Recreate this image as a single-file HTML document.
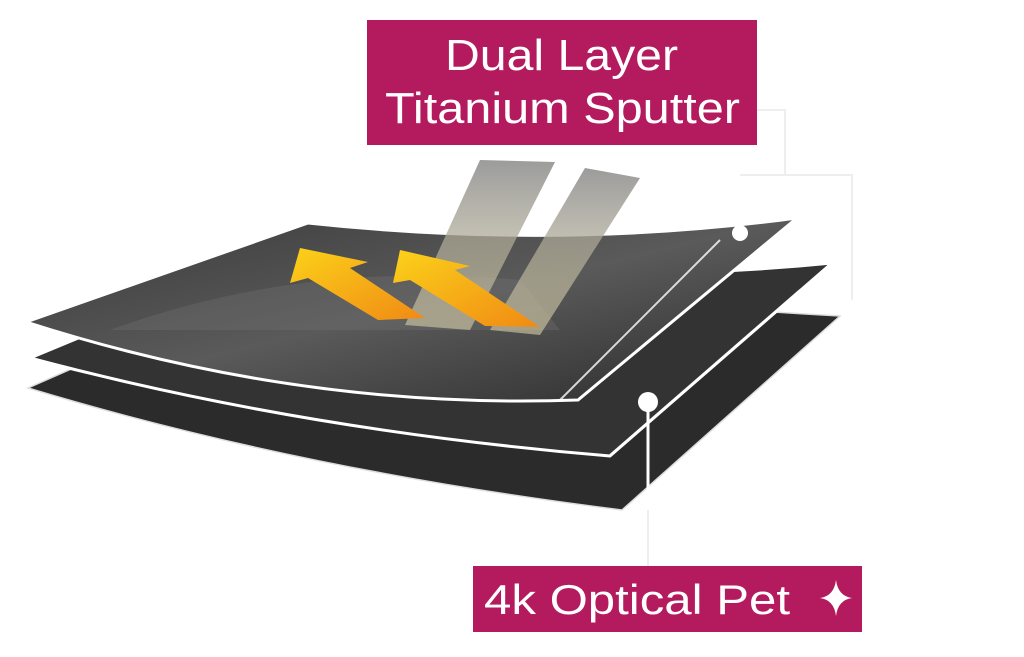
<!DOCTYPE html>
<html><head><meta charset="utf-8"><style>
html,body{margin:0;padding:0;background:#fff;width:1024px;height:657px;overflow:hidden}
svg{display:block}
</style></head><body>
<svg width="1024" height="657" viewBox="0 0 1024 657" xmlns="http://www.w3.org/2000/svg">
<defs>
<linearGradient id="g1" x1="0" y1="0" x2="1" y2="1">
<stop offset="0" stop-color="#3a3a3a"/><stop offset="0.5" stop-color="#5a5a5a"/><stop offset="1" stop-color="#2a2a2a"/>
</linearGradient>
<linearGradient id="ar" x1="0" y1="0" x2="1" y2="1">
<stop offset="0" stop-color="#fcd21a"/><stop offset="1" stop-color="#f08a14"/>
</linearGradient>
<linearGradient id="st" x1="0" y1="0" x2="0" y2="1">
<stop offset="0" stop-color="#8a8a8a"/><stop offset="1" stop-color="#d8cfa8" stop-opacity="0.7"/>
</linearGradient>
</defs>
<path d="M28,388 L300,268 Q560,300 840,316 L622,510 Q300,470 28,388 Z" fill="#2b2b2b" stroke="#ddd" stroke-width="1.5"/>
<path d="M30,358 L300,246 Q560,290 832,263 L610,456 Q300,430 30,358 Z" fill="#333" stroke="#fff" stroke-width="3"/>
<path d="M26,322 L308,223 Q560,250 797,218 L578,400 Q300,410 26,322 Z" fill="url(#g1)" stroke="#fff" stroke-width="3"/>
<path d="M110,330 Q300,260 520,280 L560,330 Q300,330 110,330 Z" fill="#777" opacity="0.3"/>
<path d="M480,160 L555,162 L470,330 L405,325 Z" fill="url(#st)" opacity="0.85"/>
<path d="M585,168 L640,178 L540,335 L490,330 Z" fill="url(#st)" opacity="0.85"/>
<path d="M300,248 L290,283 L308,278 L378,320 L425,318 L350,268 L368,262 Z" fill="url(#ar)"/>
<path d="M400,250 L393,283 L410,280 L485,326 L540,327 L455,270 L470,266 Z" fill="url(#ar)"/>
<path d="M560,400 L720,240" stroke="#fff" stroke-width="2" opacity="0.8"/>
<path d="M610,455 L800,290" stroke="#fff" stroke-width="2" opacity="0.7"/>
<circle cx="740" cy="233" r="8" fill="#fff"/>
<path d="M757,110 L785,110 L785,175 M740,175 L852,175 L852,300" stroke="#eee" stroke-width="2" fill="none"/>
<circle cx="648" cy="402" r="10" fill="#fff"/>
<line x1="648" y1="402" x2="648" y2="566" stroke="#fff" stroke-width="3"/>
<line x1="648" y1="510" x2="648" y2="566" stroke="#eee" stroke-width="2"/>
<rect x="367" y="20" width="390" height="125" fill="#b31b5e"/>
<text x="445" y="70" font-family="Liberation Sans, sans-serif" font-size="44" fill="#fff" textLength="233" lengthAdjust="spacingAndGlyphs">Dual Layer</text>
<text x="385" y="123" font-family="Liberation Sans, sans-serif" font-size="44" fill="#fff" textLength="355" lengthAdjust="spacingAndGlyphs">Titanium Sputter</text>
<rect x="473" y="566" width="389" height="66" fill="#b31b5e"/>
<text x="484" y="614" font-family="Liberation Sans, sans-serif" font-size="42" fill="#fff" textLength="306" lengthAdjust="spacingAndGlyphs">4k Optical Pet</text>
<path d="M836,580 Q838,596 852,598 Q838,600 836,616 Q834,600 820,598 Q834,596 836,580 Z" fill="#fff"/>
</svg>
</body></html>
